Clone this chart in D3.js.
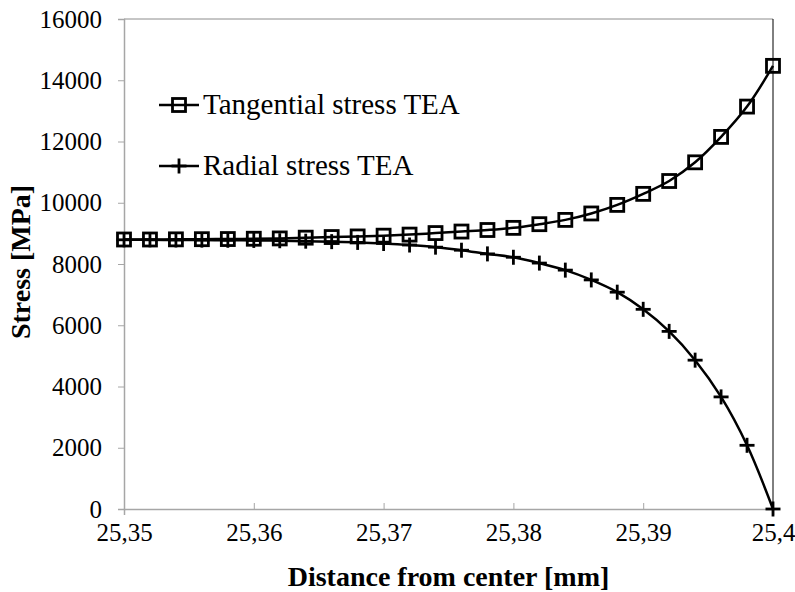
<!DOCTYPE html>
<html>
<head>
<meta charset="utf-8">
<script src="https://cdn.jsdelivr.net/npm/d3@7"></script>
<style>
  body { margin: 0; background: #fff; }
  text { font-family: "Liberation Serif", "Times New Roman", serif; fill: #000; }
</style>
</head>
<body>
<svg id="chart" width="795" height="592"></svg>
<script>
// distance from center [mm], one point every 0.002 mm
var distance = [25.350, 25.352, 25.354, 25.356, 25.358, 25.360, 25.362, 25.364, 25.366,
  25.368, 25.370, 25.372, 25.374, 25.376, 25.378, 25.380, 25.382, 25.384, 25.386,
  25.388, 25.390, 25.392, 25.394, 25.396, 25.398, 25.400];
var tangential = [8800, 8800, 8805, 8810, 8815, 8825, 8835, 8860, 8880, 8900, 8925, 8960,
  9010, 9060, 9110, 9180, 9300, 9440, 9650, 9930, 10290, 10710, 11320, 12150, 13140, 14470];
var radial = [8790, 8790, 8785, 8780, 8775, 8770, 8760, 8745, 8730, 8705, 8670, 8620,
  8550, 8450, 8330, 8220, 8030, 7800, 7480, 7080, 6520, 5800, 4860, 3660, 2080, 0];
var xTicks = [25.35, 25.36, 25.37, 25.38, 25.39, 25.4];
var yTicks = [0, 2000, 4000, 6000, 8000, 10000, 12000, 14000, 16000];
var legendNames = ["Tangential stress TEA", "Radial stress TEA"];

var svg = d3.select("#chart");
var plotL = 124, plotR = 773, plotT = 19, plotB = 509;
var serif = "'Liberation Serif', 'Times New Roman', serif";

var x = d3.scaleLinear().domain([25.35, 25.4]).range([plotL, plotR]);
var y = d3.scaleLinear().domain([0, 16000]).range([plotB, plotT]);

// plot frame
svg.append("line").attr("x1", plotL).attr("x2", plotR).attr("y1", plotT).attr("y2", plotT)
  .attr("stroke", "#8c8c8c").attr("stroke-width", 1);
svg.append("line").attr("x1", plotR).attr("x2", plotR).attr("y1", plotT).attr("y2", plotB)
  .attr("stroke", "#000").attr("stroke-width", 1);

var fmt = function(d) { return String(d).replace(".", ","); };

var xAxis = svg.append("g").attr("transform", "translate(0," + plotB + ")")
  .call(d3.axisBottom(x).tickValues(xTicks).tickFormat(fmt).tickSize(6).tickPadding(8));
var yAxis = svg.append("g").attr("transform", "translate(" + plotL + ",0)")
  .call(d3.axisLeft(y).tickValues(yTicks).tickFormat(d3.format("d")).tickSize(6).tickPadding(16));

[xAxis, yAxis].forEach(function(a) {
  a.attr("font-family", serif).attr("font-size", 25);
  a.select(".domain").attr("stroke", "#a6a6a6").attr("stroke-width", 1.5);
  a.selectAll(".tick line").attr("stroke", "#a6a6a6");
  a.selectAll("text").attr("fill", "#000");
});
xAxis.selectAll(".tick line").attr("y1", -6).attr("y2", 0);

svg.append("text").attr("x", (plotL + plotR) / 2).attr("y", 586)
  .attr("text-anchor", "middle").style("font-size", "28px").style("font-weight", "bold")
  .text("Distance from center [mm]");
svg.append("text").attr("transform", "translate(30," + 262 + ") rotate(-90)")
  .attr("text-anchor", "middle").style("font-size", "28px").style("font-weight", "bold")
  .text("Stress [MPa]");

var line = d3.line().curve(d3.curveCatmullRom.alpha(0.5))
  .x(function(d) { return x(d[0]); }).y(function(d) { return y(d[1]); });

var tanData = d3.zip(distance, tangential);
var radData = d3.zip(distance, radial);

function drawPlus(g) {
  g.append("line").attr("x1", -7.5).attr("x2", 7.5).attr("y1", 0).attr("y2", 0);
  g.append("line").attr("x1", 0).attr("x2", 0).attr("y1", -7.5).attr("y2", 7.5);
}
function drawSquare(g) {
  g.append("rect").attr("x", -6.5).attr("y", -6.5).attr("width", 13).attr("height", 13).attr("fill", "none");
}

svg.append("path").datum(radData).attr("d", line)
  .attr("fill", "none").attr("stroke", "#000").attr("stroke-width", 2.5);
svg.append("path").datum(tanData).attr("d", line)
  .attr("fill", "none").attr("stroke", "#000").attr("stroke-width", 2.5);

svg.append("g").attr("stroke", "#000").attr("stroke-width", 2.8)
  .selectAll("g").data(radData).enter().append("g")
  .attr("transform", function(d) { return "translate(" + x(d[0]) + "," + y(d[1]) + ")"; })
  .each(function() { drawPlus(d3.select(this)); });
svg.append("g").attr("stroke", "#000").attr("stroke-width", 2.8)
  .selectAll("g").data(tanData).enter().append("g")
  .attr("transform", function(d) { return "translate(" + x(d[0]) + "," + y(d[1]) + ")"; })
  .each(function() { drawSquare(d3.select(this)); });

// legend
var legY = [105, 166];
legendNames.forEach(function(name, i) {
  var g = svg.append("g").attr("transform", "translate(159," + legY[i] + ")");
  g.append("line").attr("x1", 0).attr("x2", 40).attr("stroke", "#000").attr("stroke-width", 2.5);
  var m = g.append("g").attr("transform", "translate(20,0)").attr("stroke", "#000").attr("stroke-width", 2.8);
  if (i === 0) drawSquare(m); else drawPlus(m);
  g.append("text").attr("x", 44).attr("y", 9).style("font-size", "29px").text(name);
});
</script>
</body>
</html>
